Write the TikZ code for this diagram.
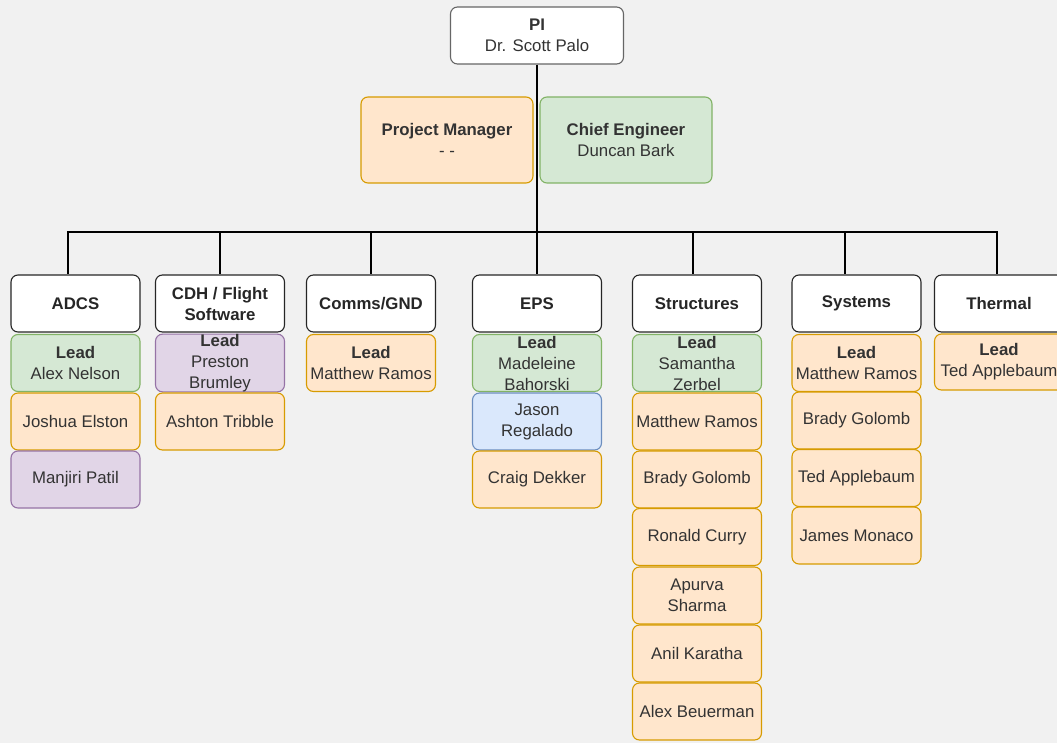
\documentclass[tikz,border=0pt]{standalone}
\usepackage{fontspec}
\setmainfont{Liberation Sans}
\definecolor{bg}{HTML}{F1F1F1}
\definecolor{txt}{HTML}{333333}
\definecolor{orfill}{HTML}{FFE6CC}\definecolor{orline}{HTML}{D79B00}
\definecolor{grfill}{HTML}{D5E8D4}\definecolor{grline}{HTML}{82B366}
\definecolor{pufill}{HTML}{E1D5E7}\definecolor{puline}{HTML}{9673A6}
\definecolor{blfill}{HTML}{DAE8FC}\definecolor{blline}{HTML}{6C8EBF}
\definecolor{piline}{HTML}{666666}
\begin{document}
\begin{tikzpicture}[x=1pt,y=-1pt,
  box/.style={draw, rounded corners=7pt, minimum width=129pt, minimum height=57pt,
    inner sep=0pt, align=center, line width=1.1pt, text=txt,
    font=\fontsize{16.8}{21}\selectfont},
  dept/.style={box, fill=white, draw=black!85, font=\fontsize{16.8}{21}\selectfont\bfseries, text=black!85},
  org/.style={box, fill=orfill, draw=orline},
  grn/.style={box, fill=grfill, draw=grline},
  pur/.style={box, fill=pufill, draw=puline},
  blu/.style={box, fill=blfill, draw=blline},
  conn/.style={draw=black, line width=1.3pt}]
\fill[bg] (0,0) rectangle (1057,743);
\useasboundingbox (0,0) rectangle (1057,743);
\clip (0,0) rectangle (1057,743);

% top
\node[box, fill=white, draw=piline, minimum width=173pt] (pi) at (537,35.5) {\textbf{PI}\\Dr. Scott Palo};
\node[org, minimum width=172pt, minimum height=86pt] (pm) at (447,140) {\textbf{Project Manager}\\- -};
\node[grn, minimum width=172pt, minimum height=86pt] (ce) at (626,140) {\textbf{Chief Engineer}\\Duncan Bark};

% departments
\node[dept] (adcs) at (75.5,303.5) {ADCS};
\node[dept] (cdh) at (220,303.5) {CDH / Flight\\Software};
\node[dept] (comms) at (371,303.5) {Comms/GND};
\node[dept] (eps) at (537,303.5) {EPS};
\node[dept] (struc) at (697,303.5) {Structures};
\node[dept] (sys) at (856.5,303.5) {Systems};
\node[dept] (therm) at (999,303.5) {Thermal};

% ADCS
\node[grn] (a1) at (75.5,363) {\textbf{Lead}\\Alex Nelson};
\node[org] (a2) at (75.5,421.5) {Joshua Elston};
\node[pur] (a3) at (75.5,479.5) {Manjiri Patil};
% CDH
\node[pur] (c1) at (220,363) {\textbf{Lead}\\Preston\\Brumley};
\node[org] (c2) at (220,421.5) {Ashton Tribble};
% Comms
\node[org] (g1) at (371,363) {\textbf{Lead}\\Matthew Ramos};
% EPS
\node[grn] (e1) at (537,363) {\textbf{Lead}\\Madeleine\\Bahorski};
\node[blu] (e2) at (537,421.5) {Jason\\Regalado};
\node[org] (e3) at (537,479.5) {Craig Dekker};
% Structures
\node[grn] (s1) at (697,363) {\textbf{Lead}\\Samantha\\Zerbel};
\node[org] (s2) at (697,421.5) {Matthew Ramos};
\node[org] (s3) at (697,479.5) {Brady Golomb};
\node[org] (s4) at (697,537) {Ronald Curry};
\node[org] (s5) at (697,595.5) {Apurva\\Sharma};
\node[org] (s6) at (697,653.5) {Anil Karatha};
\node[org] (s7) at (697,711.5) {Alex Beuerman};
% Systems
\node[org] (y1) at (856.5,363) {\textbf{Lead}\\Matthew Ramos};
\node[org] (y2) at (856.5,420.5) {Brady Golomb};
\node[org] (y3) at (856.5,478) {Ted Applebaum};
\node[org] (y4) at (856.5,535.5) {James Monaco};
% Thermal
\node[org, minimum height=56pt] (t1) at (999,362) {\textbf{Lead}\\Ted Applebaum};

% connectors
\coordinate (bus) at (537,232);
\draw[conn] (pi.south) -- (pi.south |- bus);
\draw[conn] (pi.south |- bus) -| ([xshift=-7.5pt]adcs.north);
\draw[conn] (pi.south |- bus) -| (cdh.north);
\draw[conn] (pi.south |- bus) -| (comms.north);
\draw[conn] (pi.south |- bus) -- (eps.north);
\draw[conn] (pi.south |- bus) -| ([xshift=-4pt]struc.north);
\draw[conn] (pi.south |- bus) -| ([xshift=-11.5pt]sys.north);
\draw[conn, line width=1.8pt] (pi.south |- bus) ++(308,0) -| ([xshift=-2pt]therm.north);
\end{tikzpicture}
\end{document}
